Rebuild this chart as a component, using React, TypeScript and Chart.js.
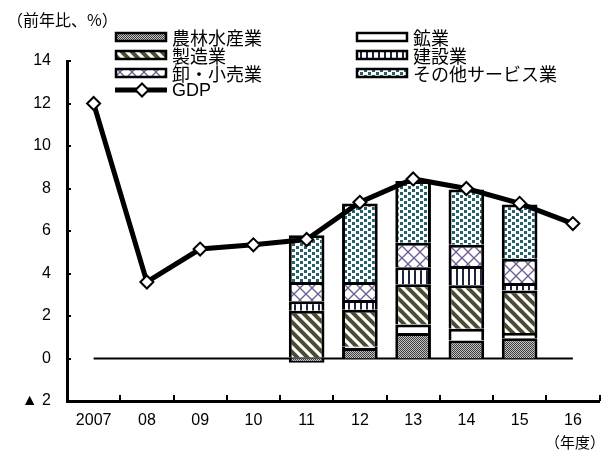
import React, { useEffect, useRef } from 'react';
import { Chart, registerables } from 'chart.js';

Chart.register(...registerables);

// 年度
const years = ['2007', '08', '09', '10', '11', '12', '13', '14', '15', '16'];
// 実質GDP成長率（前年比、%）
const gdp = [12.0, 3.6, 5.15, 5.35, 5.6, 7.35, 8.45, 8.0, 7.3, 6.35];
// 産業別寄与度（%ポイント）
const agriculture = [null, null, null, null, -0.2, 0.5, 1.2, 0.85, 0.95, null];
const mining = [null, null, null, null, 0.05, 0.05, 0.4, 0.55, 0.25, null];
const manufacturing = [null, null, null, null, 2.2, 1.75, 1.9, 2.05, 2.0, null];
const construction = [null, null, null, null, 0.45, 0.45, 0.8, 0.9, 0.35, null];
const wholesale = [null, null, null, null, 0.9, 0.85, 1.15, 1.0, 1.15, null];
const services = [null, null, null, null, 2.2, 3.7, 2.9, 2.6, 2.55, null];
const zeroLine = [0, 0, 0, 0, 0, 0, 0, 0, 0, 0];

const seriesNames = ['農林水産業', '鉱業', '製造業', '建設業', '卸・小売業', 'その他サービス業', 'GDP'];
const yMin = -2;
const yMax = 14;
const yStep = 2;

const FONT = '"Liberation Sans", Arial, "Noto Sans CJK JP", sans-serif';
const JP_FONT = '"Noto Sans CJK JP", "Liberation Sans", sans-serif';

type Painter = (g: CanvasRenderingContext2D, w: number, h: number) => void;

function makePattern(ctx: CanvasRenderingContext2D, w: number, h: number, paint: Painter) {
  const tile = document.createElement('canvas');
  tile.width = w;
  tile.height = h;
  const g = tile.getContext('2d') as CanvasRenderingContext2D;
  g.fillStyle = '#ffffff';
  g.fillRect(0, 0, w, h);
  paint(g, w, h);
  return ctx.createPattern(tile, 'repeat') as CanvasPattern;
}

export default function App() {
  const canvasRef = useRef<HTMLCanvasElement | null>(null);

  useEffect(() => {
    const canvas = canvasRef.current;
    if (!canvas) return;
    const ctx = canvas.getContext('2d') as CanvasRenderingContext2D;

    // fine grey dither
    const pAgri = makePattern(ctx, 2, 2, (g) => {
      g.fillStyle = '#c4c4c4';
      g.fillRect(0, 0, 2, 2);
      g.fillStyle = '#3c3c3c';
      g.fillRect(0, 0, 1, 1);
      g.fillRect(1, 1, 1, 1);
    });
    // plain white
    const pMining = '#ffffff';
    // olive diagonal stripes
    const pManu = makePattern(ctx, 10, 10, (g) => {
      g.strokeStyle = '#4d4b32';
      g.lineWidth = 4;
      for (const c of [-10, 0, 10]) {
        g.beginPath();
        g.moveTo(c - 3, -3);
        g.lineTo(c + 13, 13);
        g.stroke();
      }
    });
    // navy vertical stripes
    const pCons = makePattern(ctx, 6, 6, (g) => {
      g.fillStyle = '#1b2540';
      g.fillRect(0, 0, 2, 6);
    });
    // purple lattice
    const pWhole = makePattern(ctx, 12, 12, (g) => {
      g.strokeStyle = '#6c5e92';
      g.lineWidth = 1.3;
      for (const c of [-12, 0, 12]) {
        g.beginPath();
        g.moveTo(c - 1, -1);
        g.lineTo(c + 13, 13);
        g.stroke();
        g.beginPath();
        g.moveTo(c - 1, 13);
        g.lineTo(c + 13, -1);
        g.stroke();
      }
    });
    // teal scattered squares
    const pServ = makePattern(ctx, 8, 6, (g) => {
      g.fillStyle = '#25636b';
      g.fillRect(0, 0, 3, 3);
      g.fillRect(4, 3, 3, 3);
    });

    const barBase = {
      type: 'bar' as const,
      stack: 'industry',
      borderColor: '#000000',
      borderWidth: 3,
      barPercentage: 0.67,
      categoryPercentage: 1,
      order: 1,
    };

    const decor = {
      id: 'decor',
      afterDraw(chart: any) {
        const c = chart.ctx as CanvasRenderingContext2D;
        const area = chart.chartArea;
        const ys = chart.scales.y;
        c.save();
        // inward tick marks on the value axis
        c.strokeStyle = '#000';
        c.lineWidth = 2;
        for (let v = yMin + yStep; v <= yMax; v += yStep) {
          const py = Math.round(ys.getPixelForValue(v));
          c.beginPath();
          c.moveTo(area.left, py);
          c.lineTo(area.left + 4, py);
          c.stroke();
        }
        // inward tick marks between categories
        const step = (area.right - area.left) / years.length;
        for (let i = 1; i <= years.length; i++) {
          const px = Math.round(area.left + i * step);
          c.beginPath();
          c.moveTo(px, area.bottom);
          c.lineTo(px, area.bottom - 6);
          c.stroke();
        }

        // unit labels
        c.fillStyle = '#000';
        c.font = `16px ${JP_FONT}`;
        c.textBaseline = 'middle';
        c.textAlign = 'left';
        c.fillText('（前年比、%）', 7, 20);
        c.font = `15px ${JP_FONT}`;
        c.textAlign = 'center';
        c.fillText('（年度）', 575, 442);

        // legend
        const ds = chart.data.datasets;
        const rows = [37, 55, 73, 90];
        const entries = [
          { i: 0, x: 116, y: rows[0] },
          { i: 1, x: 357, y: rows[0] },
          { i: 2, x: 116, y: rows[1] },
          { i: 3, x: 357, y: rows[1] },
          { i: 4, x: 116, y: rows[2] },
          { i: 5, x: 357, y: rows[2] },
        ];
        c.font = `18px ${JP_FONT}`;
        c.textAlign = 'left';
        for (const e of entries) {
          const d = ds[e.i];
          c.fillStyle = d.backgroundColor;
          c.fillRect(e.x, e.y - 4, 50, 8);
          c.strokeStyle = '#000';
          c.lineWidth = 2.5;
          c.strokeRect(e.x, e.y - 4, 50, 8);
          c.fillStyle = '#000';
          c.fillText(seriesNames[e.i], e.x + 56, e.y + 1);
        }
        // GDP legend entry
        const gy = rows[3];
        c.strokeStyle = '#000';
        c.lineWidth = 5;
        c.beginPath();
        c.moveTo(115, gy);
        c.lineTo(167, gy);
        c.stroke();
        c.fillStyle = '#fff';
        c.lineWidth = 2;
        c.beginPath();
        c.moveTo(142, gy - 6.5);
        c.lineTo(148.5, gy);
        c.lineTo(142, gy + 6.5);
        c.lineTo(135.5, gy);
        c.closePath();
        c.fill();
        c.stroke();
        c.fillStyle = '#000';
        c.font = `18px ${FONT}`;
        c.fillText(seriesNames[6], 172, gy + 1);
        c.restore();
      },
    };

    const chart = new Chart(canvas, {
      data: {
        labels: years,
        datasets: [
          { ...barBase, label: seriesNames[0], data: agriculture, backgroundColor: pAgri },
          { ...barBase, label: seriesNames[1], data: mining, backgroundColor: pMining },
          { ...barBase, label: seriesNames[2], data: manufacturing, backgroundColor: pManu },
          { ...barBase, label: seriesNames[3], data: construction, backgroundColor: pCons },
          { ...barBase, label: seriesNames[4], data: wholesale, backgroundColor: pWhole },
          { ...barBase, label: seriesNames[5], data: services, backgroundColor: pServ },
          {
            type: 'line',
            label: seriesNames[6],
            data: gdp,
            stack: 'gdp',
            order: 0,
            borderColor: '#000',
            borderWidth: 5,
            tension: 0,
            pointStyle: 'rectRot',
            pointRadius: 6.5,
            pointBackgroundColor: '#fff',
            pointBorderColor: '#000',
            pointBorderWidth: 2,
          },
          {
            type: 'line',
            label: 'zero',
            data: zeroLine,
            stack: 'zero',
            order: 3,
            borderColor: '#000',
            borderWidth: 2,
            pointRadius: 0,
          },
        ] as any,
      },
      options: {
        animation: false,
        responsive: false,
        devicePixelRatio: 1,
        events: [],
        layout: { padding: { top: 61, right: 3, left: 0, bottom: 0 } },
        plugins: {
          legend: { display: false },
          title: { display: false },
          tooltip: { enabled: false },
        },
        scales: {
          x: {
            stacked: true,
            offset: true,
            grid: { display: false, drawTicks: false },
            border: { display: true, color: '#000', width: 3 },
            ticks: {
              color: '#000',
              padding: 10,
              maxRotation: 0,
              autoSkip: false,
              font: { size: 16, family: FONT },
            },
            afterFit: (s: any) => {
              s.height = 49;
            },
          },
          y: {
            stacked: true,
            min: yMin,
            max: yMax,
            grid: { display: false, drawTicks: false },
            border: { display: true, color: '#000', width: 3 },
            ticks: {
              stepSize: yStep,
              color: '#000',
              padding: 16,
              font: { size: 16, family: FONT },
              callback: (v: any) => (Number(v) < 0 ? `▲ ${Math.abs(Number(v))}` : String(v)),
            },
            afterFit: (s: any) => {
              s.width = 67;
            },
          },
        },
      },
      plugins: [decor],
    });

    return () => chart.destroy();
  }, []);

  return (
    <div style={{ position: 'absolute', left: 0, top: 0, width: 608, height: 450, background: '#fff' }}>
      <canvas ref={canvasRef} width={608} height={450} style={{ width: 608, height: 450, display: 'block' }} />
    </div>
  );
}
